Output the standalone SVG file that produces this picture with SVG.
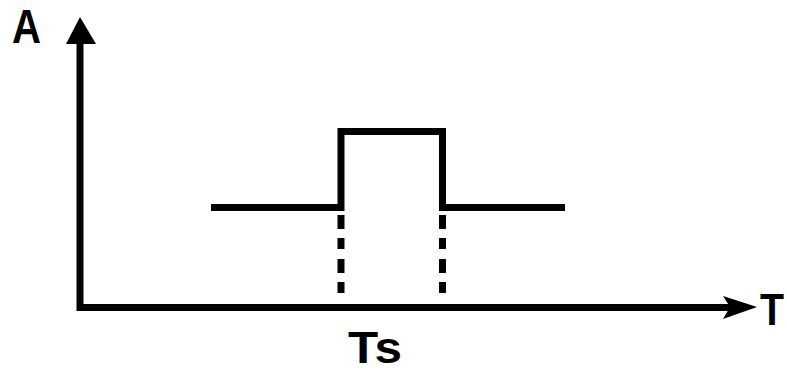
<svg xmlns="http://www.w3.org/2000/svg" width="787" height="372" viewBox="0 0 787 372">
<style>
.ln{stroke:#000;stroke-width:7;fill:none;stroke-linecap:butt}
.lbl{font-family:"Liberation Sans",Arial,sans-serif;font-weight:bold;fill:#000}
</style>
<rect width="787" height="372" fill="#fff"/>
<g id="connectors">
<line class="ln" x1="80" y1="40" x2="80" y2="311"/>
<polygon points="80,17 96,44 66,44" fill="#000"/>
<line class="ln" x1="77" y1="307.5" x2="735" y2="307.5"/>
<polygon points="757,307 723,296 730,307 723,319" fill="#000"/>
<line class="ln" x1="341" y1="215" x2="341" y2="294" stroke-dasharray="14,9,11,10"/>
<line class="ln" x1="442.5" y1="215" x2="442.5" y2="294" stroke-dasharray="14,9,11,10"/>
</g>
<g id="pulse">
<polyline class="ln" points="211,207.5 341,207.5 341,131.5 442.5,131.5 442.5,207.5 565,207.5" stroke-linejoin="miter"/>
</g>
<g id="label-A"><text class="lbl" x="12" y="43" font-size="49" textLength="29" lengthAdjust="spacingAndGlyphs">A</text></g>
<g id="label-T"><text class="lbl" x="760" y="325" font-size="44" textLength="24" lengthAdjust="spacingAndGlyphs">T</text></g>
<g id="label-Ts"><text class="lbl" x="348" y="363" font-size="44" textLength="54" lengthAdjust="spacingAndGlyphs">Ts</text></g>
</svg>
